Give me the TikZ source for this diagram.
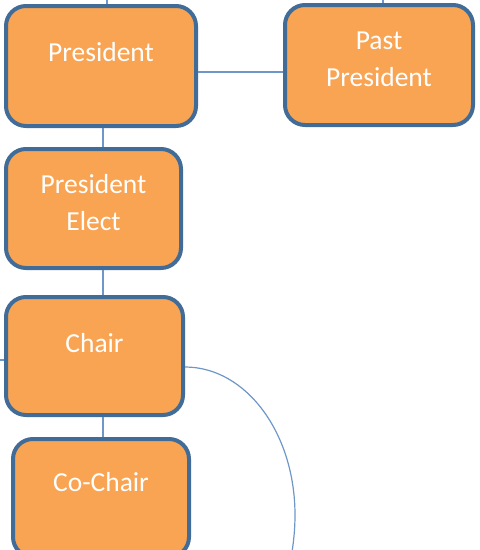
\documentclass[tikz,border=0pt]{standalone}
\usepackage{fontspec}
\setmainfont{Carlito}
\usepackage{xcolor}
\usepackage{tikz}
\usetikzlibrary{positioning}

\definecolor{boxfill}{RGB}{249,164,82}
\definecolor{boxedge}{RGB}{66,108,152}
\definecolor{wire}{RGB}{110,150,200}

\begin{document}
\begin{tikzpicture}[
	x=1pt,y=-1pt,
	font=\fontsize{27.5}{37}\selectfont
]
\tikzset{
    rolebox/.style = {rectangle, rounded corners=20pt, draw=boxedge, line width=4pt, fill=boxfill, minimum width=#1, minimum height=120pt, inner sep=0pt},
    roletext/.style = {anchor=center, text=white, align=center, yshift=14pt},
    roletwo/.style = {anchor=center, text=white, align=center, yshift=5.5pt},
    link/.style = {draw=wire, line width=1.2pt},
}
\useasboundingbox (0,0) rectangle (480,550);
\clip (0,0) rectangle (480,550);
\node[rolebox=190pt, label={[roletext]center:President}] (president) at (101,66) {};
\node[rolebox=188pt, label={[roletwo]center:Past\\President}] (pastpres) at (379,65) {};
\node[rolebox=175pt, minimum height=119pt, label={[roletwo]center:President\\Elect}] (preselect) at (93.5,208.5) {};
\node[rolebox=177pt, minimum height=118pt, label={[roletext, yshift=-1pt]center:Chair}] (chair) at (94.5,356) {};
\node[rolebox=176pt, minimum height=118pt, label={[roletext, yshift=2pt]center:Co-Chair}] (cochair) at (101,498) {};
\coordinate (presup) at (107,0);
\coordinate (pastup) at (383,0);
\coordinate (chairleft) at (0,360);
\coordinate (loopend) at (292,552);
\draw[link] (president.north -| presup) -- (presup);
\draw[link] (pastpres.north -| pastup) -- (pastup);
\draw[link] (president.east |- 0,72) -- (pastpres.west |- 0,72);
\draw[link] (president.south -| 103,0) -- (preselect.north -| 103,0);
\draw[link] (preselect.south -| 103,0) -- (chair.north -| 103,0);
\draw[link] (chair.south -| 103,0) -- (cochair.north -| 103,0);
\draw[link] (chair.west |- chairleft) -- (chairleft);
\draw[link] (chair.east |- 0,367) .. controls (246,367) and (295,433) .. (295,515)
	.. controls (295,530) and (293.5,542) .. (loopend);
\end{tikzpicture}
\end{document}
